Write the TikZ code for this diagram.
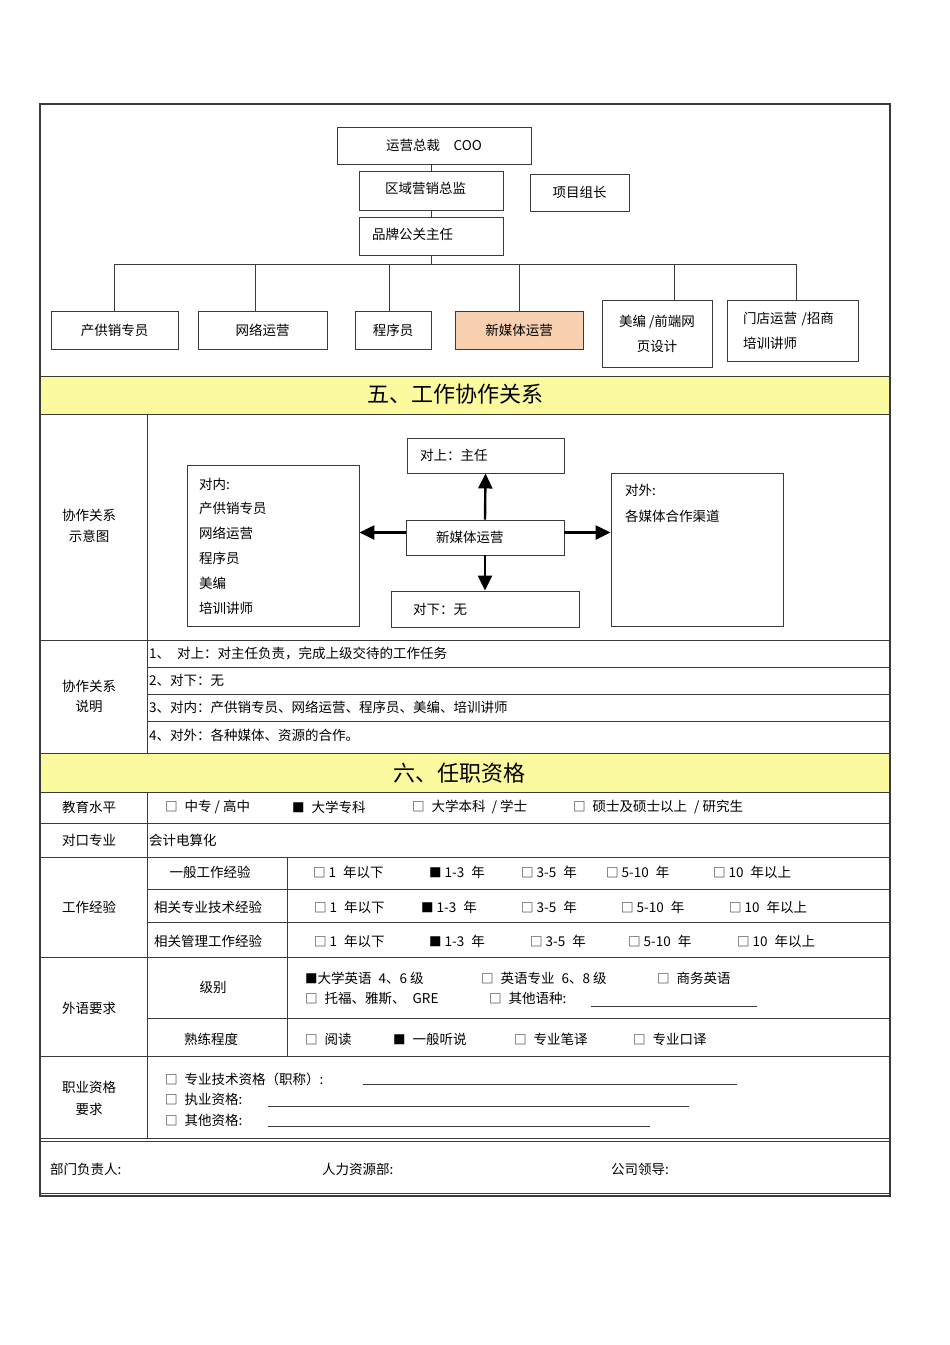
\documentclass[tikz,border=0pt]{standalone}
\usepackage{fontspec}
\setmainfont{Noto Sans CJK SC}
\usetikzlibrary{arrows.meta}
\definecolor{amarillo}{HTML}{FCFA9E}
\definecolor{durazno}{HTML}{F8D0B0}
\definecolor{linea}{HTML}{3A3A3A}
\newcommand{\letra}{\fontsize{13.5}{16}\selectfont}
\newcommand{\ckoff}{{\fontsize{12.5}{12}\selectfont □}}
\newcommand{\ckon}{{\fontsize{12.5}{12}\selectfont ■}}
\newcommand{\esp}{\hspace{7pt}}
\tikzset{
  caja/.style={draw=linea, line width=0.9pt, inner sep=0pt, font=\letra},
  texto/.style={inner sep=0pt, anchor=west, font=\letra},
  rotulo/.style={inner sep=0pt, align=center, font=\fontsize{13.5}{21}\selectfont},
  titulo/.style={inner sep=0pt, font=\fontsize{22}{26}\selectfont},
  marco/.style={draw=linea, line width=1.3pt},
  reja/.style={draw=linea, line width=0.9pt},
  flecha/.style={line width=2.4pt, -{Triangle[length=15pt,width=14pt]}}
}
\begin{document}
\begin{tikzpicture}[x=1pt,y=-1pt]
    \useasboundingbox (0,0) rectangle (950,1345);
    \fill[white] (0,0) rectangle (950,1345);
    % Bandas amarillas de los titulos
    \fill[amarillo] (40,376) rectangle (890,414);
    \fill[amarillo] (40,754) rectangle (890,792);
    % Marco exterior y rejilla de la tabla
    \draw[marco] (40,104) rectangle (890,1196);
    \foreach \y in {376,414,640,753,792,823,857,957,1056,1138,1141,1193}
        \draw[reja] (40,\y) -- (890,\y);
    \foreach \y in {667,694,721,889,922,1018}
        \draw[reja] (147,\y) -- (890,\y);
    \draw[reja] (147,414) -- (147,753);
    \draw[reja] (147,792) -- (147,1138);
    \draw[reja] (287,857) -- (287,1056);

    % Organigrama
    \node[caja, minimum width=194, minimum height=37] (coo) at (434,145.5) {运营总裁\quad COO};
    \node[caja, minimum width=144, minimum height=39] (zona) at (431,190.5) {};
    \node[texto] at (385,188) {区域营销总监};
    \node[caja, minimum width=99, minimum height=37] (proy) at (579.5,192.5) {项目组长};
    \node[caja, minimum width=144, minimum height=38] (marca) at (431,236) {};
    \node[texto] at (372,234) {品牌公关主任};
    \node[caja, minimum width=127, minimum height=38] (b1) at (114.5,330) {产供销专员};
    \node[caja, minimum width=129, minimum height=38] (b2) at (262.5,330) {网络运营};
    \node[caja, minimum width=76, minimum height=38] (b3) at (393,330) {程序员};
    \node[caja, fill=durazno, minimum width=128, minimum height=38] (b4) at (519,330) {新媒体运营};
    \node[caja, minimum width=110, minimum height=67, align=center, font=\fontsize{13.5}{25}\selectfont] (b5) at (657,333.5) {美编 /前端网\\页设计};
    \node[caja, minimum width=131, minimum height=61, text width=99pt, align=left, font=\fontsize{13.5}{25}\selectfont] (b6) at (792.5,330.5) {门店运营 /招商\\培训讲师};
    \coordinate (bus) at (431,264);
    \draw[reja] (zona.north |- coo.south) -- (zona.north);
    \draw[reja] (zona.south) -- (marca.north);
    \draw[reja] (marca.south) -- (bus);
    \draw[reja] (b1.north |- bus) -- ([xshift=4pt]b6.north |- bus);
    \foreach \c/\dx in {b1/0, b2/-7, b3/-4, b4/0, b5/17, b6/4}
        \draw[reja] ([xshift=\dx pt]\c.north) -- ([xshift=\dx pt]\c.north |- bus);

    % Titulo cinco
    \node[titulo] at (455,394) {五、工作协作关系};

    % Esquema de colaboracion
    \node[rotulo] at (89,526) {协作关系\\示意图};
    \node[caja, minimum width=157, minimum height=35, text width=131pt, align=left] (arriba) at (485.5,455.5) {对上：主任};
    \node[caja, minimum width=158, minimum height=35, text width=98pt, align=left] (centro) at (485,537.5) {新媒体运营};
    \node[caja, minimum width=188, minimum height=36, text width=144pt, align=left] (abajo) at (485,609) {对下：无};
    \node[caja, minimum width=172, minimum height=161] (interno) at (273,545.5) {};
    \node[caja, minimum width=172, minimum height=153] (externo) at (697,549.5) {};
    \foreach \t [count=\i] in {对内:, 产供销专员, 网络运营, 程序员, 美编, 培训讲师}
        \node[texto] at (199,{484+24.8*(\i-1)}) {\t};
    \node[texto] at (625,490) {对外:};
    \node[texto] at (625,516) {各媒体合作渠道};
    \coordinate (ci) at ([yshift=5pt]centro.west);
    \coordinate (cd) at ([yshift=5pt]centro.east);
    \draw[flecha] (centro.north) -- (arriba.south);
    \draw[flecha] (centro.south) -- (abajo.north);
    \draw[flecha] (ci) -- (interno.east |- ci);
    \draw[flecha] (cd) -- (externo.west |- cd);

    % Descripcion de la colaboracion
    \node[rotulo, font=\fontsize{13.5}{20}\selectfont] at (89,696) {协作关系\\说明};
    \node[texto] at (149,653) {1、\esp 对上：对主任负责，完成上级交待的工作任务};
    \node[texto] at (149,680) {2、对下：无};
    \node[texto] at (149,707) {3、对内：产供销专员、网络运营、程序员、美编、培训讲师};
    \node[texto] at (149,735) {4、对外：各种媒体、资源的合作。};

    % Titulo seis
    \node[titulo] at (459,773) {六、任职资格};

    % Educacion y especialidad
    \node[rotulo] at (89,807) {教育水平};
    \node[texto] at (165,807) {\ckoff\esp 中专 / 高中};
    \node[texto] at (292,807) {\ckon\esp 大学专科};
    \node[texto] at (412,807) {\ckoff\esp 大学本科\ \ / 学士};
    \node[texto] at (573,807) {\ckoff\esp 硕士及硕士以上\esp / 研究生};
    \node[rotulo] at (89,840) {对口专业};
    \node[texto] at (149,840) {会计电算化};

    % Experiencia laboral
    \node[rotulo] at (89,907) {工作经验};
    \node[rotulo] at (210,872) {一般工作经验};
    \node[rotulo] at (208,907) {相关专业技术经验};
    \node[rotulo] at (208,941) {相关管理工作经验};
    \foreach \y/\xa/\xb/\xc/\xd/\xe in {872/313/429/521/606/713, 907/314/421/521/621/729, 941/314/429/530/628/737} {
        \node[texto] at (\xa,\y) {\ckoff\ 1\esp 年以下};
        \node[texto] at (\xb,\y) {\ckon\ 1-3\esp 年};
        \node[texto] at (\xc,\y) {\ckoff\ 3-5\esp 年};
        \node[texto] at (\xd,\y) {\ckoff\ 5-10\esp 年};
        \node[texto] at (\xe,\y) {\ckoff\ 10\esp 年以上};
    }

    % Idiomas
    \node[rotulo] at (89,1008) {外语要求};
    \node[rotulo] at (213,987) {级别};
    \node[texto] at (305,978) {\ckon 大学英语\esp 4、6 级};
    \node[texto] at (481,978) {\ckoff\esp 英语专业\esp 6、8 级};
    \node[texto] at (657,978) {\ckoff\esp 商务英语};
    \node[texto] at (305,998) {\ckoff\esp 托福、雅斯、\esp GRE};
    \node[texto] at (489,998) {\ckoff\esp 其他语种:};
    \draw[reja] (591,1006) -- (757,1006);
    \node[rotulo] at (211,1039) {熟练程度};
    \node[texto] at (305,1039) {\ckoff\esp 阅读};
    \node[texto] at (393,1039) {\ckon\esp 一般听说};
    \node[texto] at (514,1039) {\ckoff\esp 专业笔译};
    \node[texto] at (633,1039) {\ckoff\esp 专业口译};

    % Cualificaciones
    \node[rotulo, font=\fontsize{13.5}{22}\selectfont] at (89,1098) {职业资格\\要求};
    \node[texto] at (165,1079) {\ckoff\esp 专业技术资格（职称）:};
    \draw[reja] (363,1084) -- (737,1084);
    \node[texto] at (165,1099) {\ckoff\esp 执业资格:};
    \draw[reja] (268,1106) -- (689,1106);
    \node[texto] at (165,1120) {\ckoff\esp 其他资格:};
    \draw[reja] (268,1126) -- (650,1126);

    % Firmas
    \node[texto] at (50,1169) {部门负责人:};
    \node[texto] at (322,1169) {人力资源部:};
    \node[texto] at (611,1169) {公司领导:};
\end{tikzpicture}
\end{document}
